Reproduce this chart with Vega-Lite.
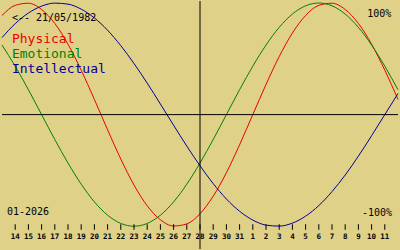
{
  "$schema": "https://vega.github.io/schema/vega-lite/v6.json",
  "width": 400,
  "height": 250,
  "padding": 0,
  "autosize": {"type": "fit", "contains": "padding"},
  "background": "#E0D189",
  "config": {"view": {"stroke": null}, "axis": {"disable": true}, "legend": {"disable": true}},
  "datasets": {
    "curves": [
      {"i": 0, "Physical": 88.8, "Emotional": 62.3, "Intellectual": 69.0},
      {"i": 1, "Physical": 97.9, "Emotional": 43.4, "Intellectual": 81.5},
      {"i": 2, "Physical": 99.8, "Emotional": 22.3, "Intellectual": 91.0},
      {"i": 3, "Physical": 94.2, "Emotional": 0.0, "Intellectual": 97.2},
      {"i": 4, "Physical": 81.7, "Emotional": -22.3, "Intellectual": 99.9},
      {"i": 5, "Physical": 63.1, "Emotional": -43.4, "Intellectual": 99.0},
      {"i": 6, "Physical": 39.8, "Emotional": -62.3, "Intellectual": 94.5},
      {"i": 7, "Physical": 13.6, "Emotional": -78.2, "Intellectual": 86.6},
      {"i": 8, "Physical": -13.6, "Emotional": -90.1, "Intellectual": 75.6},
      {"i": 9, "Physical": -39.8, "Emotional": -97.5, "Intellectual": 61.8},
      {"i": 10, "Physical": -63.1, "Emotional": -100.0, "Intellectual": 45.8},
      {"i": 11, "Physical": -81.7, "Emotional": -97.5, "Intellectual": 28.2},
      {"i": 12, "Physical": -94.2, "Emotional": -90.1, "Intellectual": 9.5},
      {"i": 13, "Physical": -99.8, "Emotional": -78.2, "Intellectual": -9.5},
      {"i": 14, "Physical": -97.9, "Emotional": -62.3, "Intellectual": -28.2},
      {"i": 15, "Physical": -88.8, "Emotional": -43.4, "Intellectual": -45.8},
      {"i": 16, "Physical": -73.1, "Emotional": -22.3, "Intellectual": -61.8},
      {"i": 17, "Physical": -52.0, "Emotional": 0.0, "Intellectual": -75.6},
      {"i": 18, "Physical": -27.0, "Emotional": 22.3, "Intellectual": -86.6},
      {"i": 19, "Physical": 0.0, "Emotional": 43.4, "Intellectual": -94.5},
      {"i": 20, "Physical": 27.0, "Emotional": 62.3, "Intellectual": -99.0},
      {"i": 21, "Physical": 52.0, "Emotional": 78.2, "Intellectual": -99.9},
      {"i": 22, "Physical": 73.1, "Emotional": 90.1, "Intellectual": -97.2},
      {"i": 23, "Physical": 88.8, "Emotional": 97.5, "Intellectual": -91.0},
      {"i": 24, "Physical": 97.9, "Emotional": 100.0, "Intellectual": -81.5},
      {"i": 25, "Physical": 99.8, "Emotional": 97.5, "Intellectual": -69.0},
      {"i": 26, "Physical": 94.2, "Emotional": 90.1, "Intellectual": -54.1},
      {"i": 27, "Physical": 81.7, "Emotional": 78.2, "Intellectual": -37.2},
      {"i": 28, "Physical": 63.1, "Emotional": 62.3, "Intellectual": -18.9},
      {"i": 29, "Physical": 39.8, "Emotional": 43.4, "Intellectual": 0.0},
      {"i": 30, "Physical": 13.6, "Emotional": 22.3, "Intellectual": 18.9}
    ],
    "ticks": [
      {"i": 1, "label": "14"}, {"i": 2, "label": "15"}, {"i": 3, "label": "16"},
      {"i": 4, "label": "17"}, {"i": 5, "label": "18"}, {"i": 6, "label": "19"},
      {"i": 7, "label": "20"}, {"i": 8, "label": "21"}, {"i": 9, "label": "22"},
      {"i": 10, "label": "23"}, {"i": 11, "label": "24"}, {"i": 12, "label": "25"},
      {"i": 13, "label": "26"}, {"i": 14, "label": "27"}, {"i": 15, "label": "28"},
      {"i": 16, "label": "29"}, {"i": 17, "label": "30"}, {"i": 18, "label": "31"},
      {"i": 19, "label": "1"}, {"i": 20, "label": "2"}, {"i": 21, "label": "3"},
      {"i": 22, "label": "4"}, {"i": 23, "label": "5"}, {"i": 24, "label": "6"},
      {"i": 25, "label": "7"}, {"i": 26, "label": "8"}, {"i": 27, "label": "9"},
      {"i": 28, "label": "10"}, {"i": 29, "label": "11"}
    ]
  },
  "layer": [
    {
      "data": {"name": "curves"},
      "transform": [{"fold": ["Physical", "Emotional", "Intellectual"], "as": ["series", "v"]}],
      "mark": {"type": "line", "strokeWidth": 1, "interpolate": "monotone"},
      "encoding": {
        "x": {"field": "i", "type": "quantitative", "scale": {"domain": [0, 30], "nice": false, "zero": false}},
        "y": {"field": "v", "type": "quantitative", "scale": {"domain": [-120.4, 101.8], "nice": false, "zero": false}},
        "color": {"field": "series", "type": "nominal", "scale": {"domain": ["Physical", "Emotional", "Intellectual"], "range": ["#E80000", "#008000", "#000098"]}}
      }
    },
    {
      "data": {"values": [{}]},
      "mark": {"type": "rule", "color": "#000000", "strokeWidth": 1},
      "encoding": {"y": {"datum": 0, "type": "quantitative"}}
    },
    {
      "data": {"values": [{}]},
      "mark": {"type": "rule", "color": "#000000", "strokeWidth": 1},
      "encoding": {"x": {"datum": 15, "type": "quantitative"}}
    },
    {
      "data": {"name": "ticks"},
      "mark": {"type": "rule", "color": "#000000", "strokeWidth": 1},
      "encoding": {
        "x": {"field": "i", "type": "quantitative"},
        "y": {"datum": -98.2, "type": "quantitative"},
        "y2": {"datum": -103.2}
      }
    },
    {
      "data": {"name": "ticks"},
      "mark": {"type": "text", "font": "DejaVu Sans Mono", "fontSize": 7.5, "fontWeight": "bold", "color": "#000000", "baseline": "alphabetic", "align": "center"},
      "encoding": {
        "x": {"field": "i", "type": "quantitative"},
        "y": {"datum": -111.6, "type": "quantitative"},
        "text": {"field": "label"}
      }
    },
    {
      "data": {"values": [{"t": "<-- 21/05/1982"}]},
      "mark": {"type": "text", "font": "DejaVu Sans Mono", "fontSize": 10, "color": "#000000", "baseline": "alphabetic", "align": "left"},
      "encoding": {"x": {"datum": 0.75, "type": "quantitative"}, "y": {"datum": 83.8, "type": "quantitative"}, "text": {"field": "t"}}
    },
    {
      "data": {"values": [{"t": "Physical"}]},
      "mark": {"type": "text", "font": "DejaVu Sans Mono", "fontSize": 13, "color": "#E80000", "baseline": "alphabetic", "align": "left"},
      "encoding": {"x": {"datum": 0.75, "type": "quantitative"}, "y": {"datum": 64.2, "type": "quantitative"}, "text": {"field": "t"}}
    },
    {
      "data": {"values": [{"t": "Emotional"}]},
      "mark": {"type": "text", "font": "DejaVu Sans Mono", "fontSize": 13, "color": "#008000", "baseline": "alphabetic", "align": "left"},
      "encoding": {"x": {"datum": 0.75, "type": "quantitative"}, "y": {"datum": 50.8, "type": "quantitative"}, "text": {"field": "t"}}
    },
    {
      "data": {"values": [{"t": "Intellectual"}]},
      "mark": {"type": "text", "font": "DejaVu Sans Mono", "fontSize": 13, "color": "#000098", "baseline": "alphabetic", "align": "left"},
      "encoding": {"x": {"datum": 0.75, "type": "quantitative"}, "y": {"datum": 37.5, "type": "quantitative"}, "text": {"field": "t"}}
    },
    {
      "data": {"values": [{"t": "100%"}]},
      "mark": {"type": "text", "font": "DejaVu Sans Mono", "fontSize": 10, "color": "#000000", "baseline": "alphabetic", "align": "right"},
      "encoding": {"x": {"datum": 29.5, "type": "quantitative"}, "y": {"datum": 87.6, "type": "quantitative"}, "text": {"field": "t"}}
    },
    {
      "data": {"values": [{"t": "-100%"}]},
      "mark": {"type": "text", "font": "DejaVu Sans Mono", "fontSize": 10, "color": "#000000", "baseline": "alphabetic", "align": "right"},
      "encoding": {"x": {"datum": 29.55, "type": "quantitative"}, "y": {"datum": -90.8, "type": "quantitative"}, "text": {"field": "t"}}
    },
    {
      "data": {"values": [{"t": "01-2026"}]},
      "mark": {"type": "text", "font": "DejaVu Sans Mono", "fontSize": 10, "color": "#000000", "baseline": "alphabetic", "align": "left"},
      "encoding": {"x": {"datum": 0.375, "type": "quantitative"}, "y": {"datum": -90.2, "type": "quantitative"}, "text": {"field": "t"}}
    }
  ]
}
